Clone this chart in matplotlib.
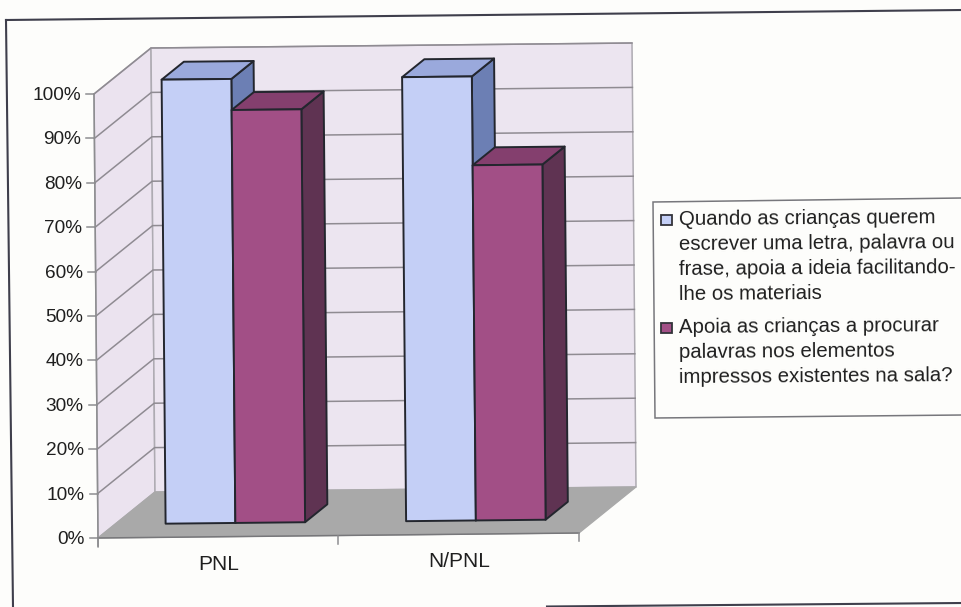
import matplotlib
matplotlib.use("Agg")
import matplotlib.pyplot as plt
from matplotlib.patches import Polygon, Rectangle

plt.rcParams['font.family'] = ['Liberation Sans', 'DejaVu Sans']

categories = ['PNL', 'N/PNL']
apoia_ideia = [100, 100]
apoia_palavras = [93, 80]
y_ticks = [0, 10, 20, 30, 40, 50, 60, 70, 80, 90, 100]
legend_lines = [
    ['Quando as crianças querem', 'escrever uma letra, palavra ou',
     'frase, apoia a ideia facilitando-', 'lhe os materiais'],
    ['Apoia as crianças a procurar', 'palavras nos elementos',
     'impressos existentes na sala?'],
]

BLUE = ('#c4cff6', '#9aa9dc', '#6c7fb4')
PLUM = ('#a24f86', '#843f6e', '#5f3352')
BAR_WIDTH = 0.29
BAR_DEPTH = (0.3, 0.69)


def project(cat, val, depth):
    """cat: category units, val: percent, depth: 0 front to 1 back -> canvas pixels"""
    x = 98 + cat * 240.5 - val * 0.04 + depth * 57
    y = 538 - cat * 2.5 - val * 4.44 - depth * 46
    return x, y


def face(ax, pts, color, edge=None, lw=1.0, z=1):
    ax.add_patch(Polygon([project(*p) for p in pts], closed=True, facecolor=color,
                         edgecolor=edge if edge else color, linewidth=lw, zorder=z,
                         joinstyle='round'))


def bar3d(ax, left, value, colors, z):
    right = left + BAR_WIDTH
    d0, d1 = BAR_DEPTH
    edge = '#23262e'
    face(ax, [(right, 0, d0), (right, 0, d1), (right, value, d1), (right, value, d0)],
         colors[2], edge, 1.4, z)
    face(ax, [(left, value, d0), (right, value, d0), (right, value, d1), (left, value, d1)],
         colors[1], edge, 1.4, z)
    face(ax, [(left, 0, d0), (right, 0, d0), (right, value, d0), (left, value, d0)],
         colors[0], edge, 1.4, z)


fig = plt.figure(figsize=(9.62, 6.07), dpi=100, facecolor='#fdfdfb')
ax = fig.add_axes([0, 0, 1, 1])
ax.set_xlim(0, 962)
ax.set_ylim(607, 0)
ax.axis('off')

# walls and floor
wall_edge = '#aeabb2'
n = len(categories)
face(ax, [(0, 0, 0), (0, 100, 0), (0, 100, 1), (0, 0, 1)], '#ebe3ef', wall_edge, 1.1)
face(ax, [(0, 0, 1), (0, 100, 1), (n, 100, 1), (n, 0, 1)], '#ece5f0', wall_edge, 1.1)
face(ax, [(0, 0, 0), (n, 0, 0), (n, 0, 1), (0, 0, 1)], '#a9a9a9', '#a9a9a9', 0.9, z=2)

# gridlines run along the side wall and across the back wall
for t in y_ticks[1:]:
    xs, ys = zip(project(0, t, 0), project(0, t, 1), project(n, t, 1))
    ax.plot(xs, ys, color='#8f8b92', lw=1.1, zorder=1.5)

# value axis
xs, ys = zip(project(0, 100, 0), project(0, -2, 0))
ax.plot(xs, ys, color='#8d8d90', lw=1.1, zorder=3)
for t in y_ticks:
    x, y = project(0, t, 0)
    ax.plot([x - 8, x], [y, y], color='#8d8d90', lw=1.1, zorder=3)
    ax.text(x - 13, y + 1.5, f'{t}%', ha='right', va='center', fontsize=13.7, color='#1f1f1f')

# category axis
xs, ys = zip(project(0, 0, 0), project(n, 0, 0))
ax.plot(xs, ys, color='#77777a', lw=1.1, zorder=3)
for i in range(n + 1):
    x, y = project(i, 0, 0)
    ax.plot([x, x], [y, y + 8], color='#8d8d90', lw=1.1, zorder=3)
for i, name in enumerate(categories):
    x, y = project(i + 0.5, 0, 0)
    ax.text(x, y + 27.5, name, ha='center', va='center', fontsize=15, color='#1f1f1f')

# bars, back to front within each group
for i in range(n):
    bar3d(ax, i + 0.21, apoia_ideia[i], BLUE, 4 + i)
    bar3d(ax, i + 0.21 + BAR_WIDTH, apoia_palavras[i], PLUM, 4.5 + i)

# legend box
ax.add_patch(Polygon([(962, 198), (653, 202), (655, 418), (962, 415)], closed=False,
                     fill=False, edgecolor='#77777c', lw=1.1, zorder=3))
line_ys = [[220, 245, 270, 295], [328, 353, 378]]
swatch_ys = [215, 323]
for lines, ys, sy, col in zip(legend_lines, line_ys, swatch_ys, (BLUE[0], PLUM[0])):
    ax.add_patch(Rectangle((661, sy), 11, 10, facecolor=col, edgecolor='#33333a', lw=1.3, zorder=3))
    for line, y in zip(lines, ys):
        ax.text(679, y, line, ha='left', va='center', fontsize=14.7, color='#1f1f1f',
                rotation=0.4, rotation_mode='anchor')

# outer chart frame, open along the lower left
frame = '#3f3f4c'
ax.plot([6, 962], [20, 10], color=frame, lw=1.5, zorder=6)
ax.plot([6, 13], [20, 607], color=frame, lw=1.5, zorder=6)
ax.plot([547, 962], [606.5, 603], color=frame, lw=1.5, zorder=6)

fig.savefig('out.png', dpi=100, facecolor=fig.get_facecolor())
